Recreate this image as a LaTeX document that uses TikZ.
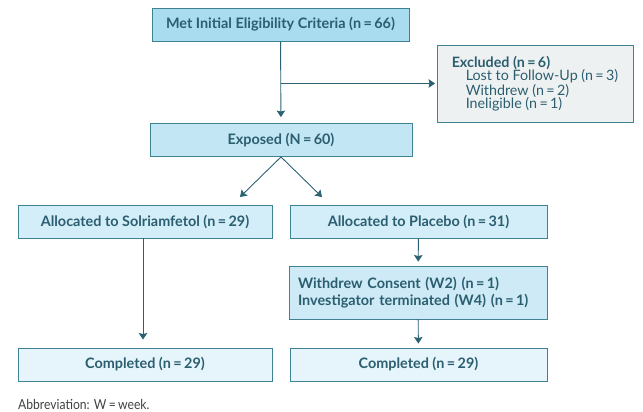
\documentclass[tikz,border=0pt]{standalone}
\usepackage{fontspec}
\setmainfont{Lato}
\newfontfamily\notefont{Lato}[FakeStretch=0.88]
\usetikzlibrary{arrows.meta}
\definecolor{boxline}{HTML}{3F8293}
\definecolor{boxtext}{HTML}{2B5E6F}
\definecolor{arrowcol}{HTML}{2A6273}
\definecolor{filltop}{HTML}{A9DCEE}
\definecolor{fillexp}{HTML}{C2E6F4}
\definecolor{fillalloc}{HTML}{D3EEF8}
\definecolor{fillwd}{HTML}{CDEAF6}
\definecolor{fillcomp}{HTML}{E6F5FB}
\definecolor{fillexcl}{HTML}{EEF1F1}
\tikzstyle{flowbox} = [
    rectangle,
    minimum width=256pt,
    minimum height=33pt,
    inner sep=0pt,
    draw=boxline,
    line width=0.9pt,
    text=boxtext,
    font=\fontsize{14.4}{14.5}\selectfont\bfseries
]
\tikzstyle{sidebox} = [
    rectangle,
    minimum width=196pt,
    minimum height=77pt,
    inner sep=0pt,
    draw=boxline,
    line width=0.9pt,
    fill=fillexcl,
    text=boxtext,
    align=left,
    font=\fontsize{14.3}{13.4}\selectfont
]
\tikzstyle{arrow} = [line width=0.9pt,draw=arrowcol,
    -{Stealth[length=6.5pt,width=8.5pt,inset=1pt]}]

\begin{document}
\begin{tikzpicture}[x=1pt,y=-1pt]
\useasboundingbox (0,0) rectangle (643,412);

\node (eligible) [flowbox, fill=filltop, minimum width=257pt] at (280.5,24.5)
{Met Initial Eligibility Criteria (n\,=\,66)};

\node (excluded) [sidebox] at (535,83.5)
{\textbf{Excluded (n\,=\,6)}\\
\hspace{14pt}Lost to Follow-Up (n\,=\,3)\\
\hspace{14pt}Withdrew (n\,=\,2)\\
\hspace{14pt}Ineligible (n\,=\,1)};

\node (exposed) [flowbox, fill=fillexp, minimum width=262pt] at (281,140)
{Exposed (N\,=\,60)};

\node (solri) [flowbox, fill=fillalloc, minimum width=254pt] at (145,221.5)
{Allocated to Solriamfetol (n\,=\,29)};

\node (placebo) [flowbox, fill=fillalloc, minimum width=257pt] at (418.5,221.5)
{Allocated to Placebo (n\,=\,31)};

\node (withdrew) [flowbox, fill=fillwd, minimum width=258pt, minimum height=53pt,
    align=left, text width=240pt] at (418,292.5)
{Withdrew Consent (W2) (n\,=\,1)\\[2pt]
Investigator terminated (W4) (n\,=\,1)};

\node (compsolri) [flowbox, fill=fillcomp, minimum width=254pt] at (145,364.5)
{Completed (n\,=\,29)};

\node (compplacebo) [flowbox, fill=fillcomp, minimum width=257pt] at (418.5,364.5)
{Completed (n\,=\,29)};

\node (note) [anchor=west, inner sep=0pt, text=black!75,
    font=\notefont\fontsize{13.8}{14}\selectfont] at (18,404)
{Abbreviation: W\,=\,week.};

\coordinate (split) at (eligible.south |- excluded.west);
\coordinate (solritip) at (240,197);
\coordinate (placebotip) at (322,197);

\draw [arrow, shorten >=6pt] (eligible) -- (exposed);
\draw [arrow, shorten >=1.5pt] (split) -- (excluded);
\draw [arrow] (exposed.south) -- (solritip);
\draw [arrow] (exposed.south) -- (placebotip);
\draw [arrow, shorten >=8pt] (solri.south -| 143,0) -- (compsolri.north -| 143,0);
\draw [arrow, shorten >=4pt] (placebo) -- (withdrew);
\draw [arrow, shorten >=4pt] (withdrew) -- (compplacebo);

\end{tikzpicture}
\end{document}
